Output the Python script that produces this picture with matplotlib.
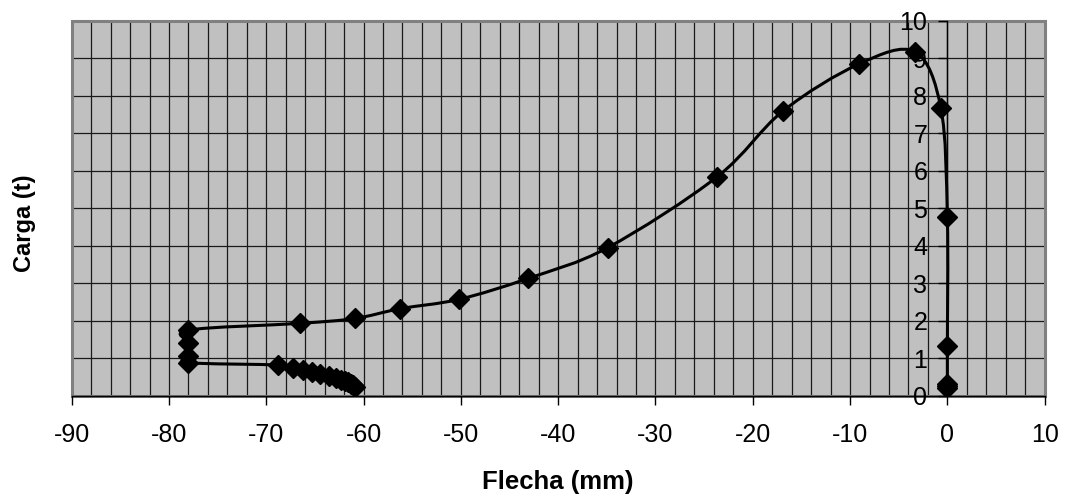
import numpy as np
import matplotlib
matplotlib.use("Agg")
import matplotlib.pyplot as plt
from matplotlib.path import Path
from matplotlib.patches import PathPatch, Rectangle

plt.rcParams["font.family"] = ["Liberation Sans", "DejaVu Sans"]
plt.rcParams["axes.unicode_minus"] = False

# ============================================================
# DATA
# ============================================================

flecha = [0.0, 0.0, 0.0, 0.0, 0.0, -0.66, -3.33, -9.05, -16.9, -23.65,
          -34.9, -43.07, -50.19, -56.26, -60.88, -66.54, -78.0, -78.0,
          -78.0, -78.0, -68.8, -67.3, -66.2, -65.3, -64.5, -63.6, -62.8,
          -62.3, -61.9, -61.6, -61.3, -61.1, -60.9]
carga = [0.2, 0.25, 0.3, 1.33, 4.77, 7.66, 9.17, 8.85, 7.59, 5.84,
         3.95, 3.13, 2.57, 2.32, 2.06, 1.93, 1.75, 1.40,
         1.06, 0.88, 0.82, 0.75, 0.69, 0.64, 0.58, 0.52, 0.47,
         0.43, 0.40, 0.36, 0.32, 0.28, 0.24]

x_ticks = list(range(-90, 11, 10))
y_ticks = list(range(0, 11, 1))

# ============================================================
# FIGURE
# ============================================================

fig = plt.figure(figsize=(10.65, 4.97), dpi=100)
ax = fig.add_axes([0.0673, 0.2038, 0.9136, 0.7545])
ax.set_facecolor("#C0C0C0")
ax.set_xlim(-90, 10)
ax.set_ylim(0, 10)

# grid: verticals every 2, horizontals every 1
for gx in np.arange(-88, 10, 2):
    ax.axvline(gx, color="#1a1a1a", linewidth=0.9, zorder=1)
for gy in y_ticks[1:]:
    ax.axhline(gy, color="#1a1a1a", linewidth=0.9, zorder=1)

# gray plot-area border
ax.add_patch(Rectangle((0, 0), 1, 1, transform=ax.transAxes, fill=False,
                       edgecolor="#808080", linewidth=2.2, zorder=1.5,
                       clip_on=False))

# spines: y axis crosses at x=0
ax.spines["top"].set_visible(False)
ax.spines["right"].set_visible(False)
ax.spines["left"].set_position(("data", 0))
for s in ("left", "bottom"):
    ax.spines[s].set_color("black")
    ax.spines[s].set_linewidth(1.0)
    ax.spines[s].set_zorder(2)

ax.set_xticks(x_ticks)
ax.set_yticks(y_ticks)
ax.tick_params(axis="both", which="major", direction="out", length=6.5,
               width=1.0, labelsize=18, color="black")
ax.tick_params(axis="x", pad=13)
ax.tick_params(axis="y", pad=8)

# smoothed line (Excel-like Catmull-Rom bezier)
pts = np.column_stack([flecha, carga])
verts = [pts[0]]
codes = [Path.MOVETO]
n = len(pts)
for i in range(n - 1):
    p0 = pts[i - 1] if i > 0 else pts[i]
    p1 = pts[i]
    p2 = pts[i + 1]
    p3 = pts[i + 2] if i + 2 < n else pts[i + 1]
    c1 = p1 + (p2 - p0) / 6.0
    c2 = p2 - (p3 - p1) / 6.0
    verts += [c1, c2, p2]
    codes += [Path.CURVE4] * 3
ax.add_patch(PathPatch(Path(verts, codes), fill=False, edgecolor="black",
                       linewidth=2.2, zorder=3, capstyle="round"))

ax.plot(flecha, carga, linestyle="none", marker="D", markersize=10,
        color="black", zorder=4)

fig.text(558 / 1065, 1 - 482 / 497, "Flecha (mm)", ha="center", va="center",
         fontsize=18.5, fontweight="bold")
fig.text(25 / 1065, 1 - 223 / 497, "Carga (t)", ha="center", va="center",
         rotation=90, fontsize=17, fontweight="bold")

plt.savefig("out.png", dpi=100)
